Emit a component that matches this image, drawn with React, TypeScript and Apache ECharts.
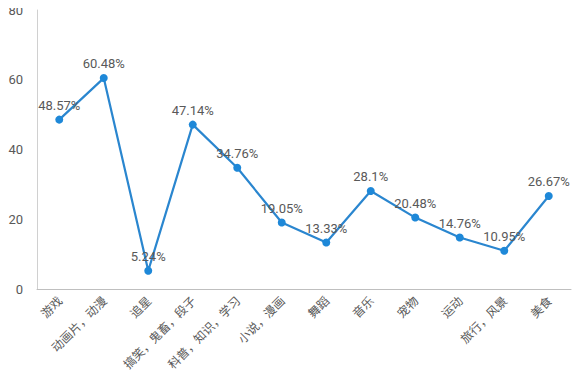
import React, { useEffect, useRef } from "react";
import * as echarts from "echarts";

const categories = ["游戏", "动画片，动漫", "追星", "搞笑，鬼畜，段子", "科普，知识，学习", "小说，漫画", "舞蹈", "音乐", "宠物", "运动", "旅行，风景", "美食"];
const values = [48.57, 60.48, 5.24, 47.14, 34.76, 19.05, 13.33, 28.1, 20.48, 14.76, 10.95, 26.67];
const yTicks = { min: 0, max: 80, interval: 20 };

export default function App() {
  const ref = useRef<HTMLDivElement>(null);
  useEffect(() => {
    const chart = echarts.init(ref.current!, null, { renderer: "svg" });
    chart.setOption({
      animation: false,
      grid: { left: 37, top: 10, right: 10, bottom: 98 },
      xAxis: {
        type: "category",
        data: categories,
        boundaryGap: true,
        axisLine: { lineStyle: { color: "#bfbfbf", width: 1 } },
        axisTick: { show: false },
        axisLabel: { rotate: 45, color: "#595959", fontSize: 12, interval: 0, margin: 9, fontFamily: "Noto Sans CJK SC" },
      },
      yAxis: {
        type: "value",
        min: yTicks.min,
        max: yTicks.max,
        interval: yTicks.interval,
        axisLine: { show: true, lineStyle: { color: "#d0d0d0", width: 1 } },
        axisTick: { show: false },
        splitLine: { show: false },
        axisLabel: { color: "#595959", fontSize: 13, margin: 14, fontFamily: "Roboto" },
      },
      series: [
        {
          type: "line",
          data: values,
          symbol: "circle",
          symbolSize: 8,
          lineStyle: { color: "#2a86cf", width: 2.2 },
          itemStyle: { color: "#1e88d8" },
          label: {
            show: true,
            position: "top",
            distance: 4,
            formatter: (p: any) => p.value + "%",
            color: "#595959",
            fontSize: 13,
            fontFamily: "Roboto",
          },
        },
      ],
    });
    return () => chart.dispose();
  }, []);
  return <div ref={ref} style={{ width: 581, height: 387, margin: -8 }} />;
}
